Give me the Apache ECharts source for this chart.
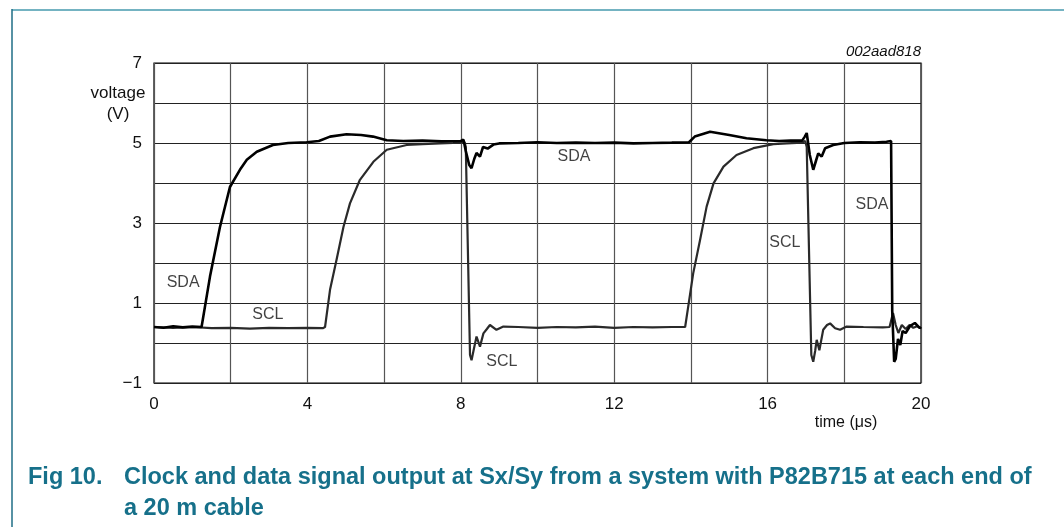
<!DOCTYPE html>
<html>
<head>
<meta charset="utf-8">
<script src="https://cdn.jsdelivr.net/npm/echarts@6/dist/echarts.min.js"></script>
<style>
html,body{margin:0;padding:0;background:#fff;}
#chart{width:1064px;height:527px;}
</style>
</head>
<body>
<div id="chart"></div>
<script>
// SDA trace (time in µs, voltage in V)
const sdaTime = [0,0.25,0.5,0.75,1.0,1.24,1.46,1.72,1.98,2.24,2.42,2.68,3.1,3.5,3.98,4.3,4.59,5.02,5.4,5.71,6.07,6.5,7.0,7.5,8.0,8.07,8.13,8.22,8.28,8.35,8.41,8.5,8.58,8.7,8.85,9.0,9.5,10,10.5,11,11.5,12,12.5,13,13.5,13.95,14.1,14.5,15.0,15.45,15.97,16.3,16.6,16.9,16.97,17.02,17.1,17.19,17.26,17.32,17.41,17.5,17.71,18.0,18.4,18.8,19.1,19.22,19.25,19.3,19.34,19.4,19.46,19.52,19.6,19.71,19.84,19.97,20];
const sdaVolt = [0.4,0.38,0.42,0.39,0.41,0.4,1.66,2.9,3.9,4.33,4.58,4.78,4.95,5.0,5.02,5.05,5.16,5.22,5.2,5.16,5.07,5.05,5.06,5.04,5.05,5.08,4.8,4.45,4.37,4.6,4.75,4.66,4.9,4.86,4.96,4.99,5.0,5.02,5.0,5.01,5.0,5.01,4.99,5.0,5.01,5.02,5.16,5.28,5.2,5.12,5.07,5.05,5.06,5.06,5.16,5.25,4.7,4.33,4.55,4.74,4.66,4.87,4.95,5.0,5.02,5.01,5.03,5.05,0.8,-0.47,-0.4,0.1,-0.05,0.3,0.25,0.42,0.5,0.37,0.4];
// SCL trace
const sclTime = [0,0.5,1.0,1.5,2.0,2.5,3.0,3.5,4.0,4.4,4.46,4.59,4.76,4.94,5.11,5.37,5.72,6.07,6.59,7.0,7.46,7.8,8.1,8.13,8.24,8.28,8.33,8.41,8.5,8.59,8.68,8.76,8.93,9.11,9.5,10,10.5,11,11.5,12,12.5,13,13.5,13.85,13.93,14.06,14.24,14.41,14.59,14.85,15.19,15.63,16.15,16.5,16.9,16.98,17.02,17.14,17.19,17.24,17.28,17.35,17.45,17.55,17.63,17.76,17.89,18.06,18.5,19.0,19.18,19.27,19.34,19.41,19.5,19.6,19.7,19.8,19.9,20];
const sclVolt = [0.4,0.38,0.4,0.37,0.38,0.36,0.38,0.37,0.38,0.37,0.4,1.33,2.08,2.9,3.49,4.08,4.53,4.83,4.95,4.97,4.99,5.0,5.02,4.9,-0.3,-0.43,-0.2,0.16,-0.09,0.24,0.35,0.45,0.33,0.41,0.4,0.38,0.4,0.39,0.41,0.38,0.4,0.39,0.4,0.4,0.91,1.74,2.58,3.41,3.99,4.41,4.7,4.87,4.97,4.99,5.01,5.05,4.9,-0.3,-0.47,-0.2,0.08,-0.18,0.33,0.45,0.49,0.37,0.33,0.41,0.4,0.39,0.4,0.75,0.45,0.25,0.45,0.35,0.45,0.38,0.42,0.37];
// In-plot annotations
const noteText = ['SDA','SCL','SDA','SCL','SCL','SDA'];
const noteTime = [0.76,2.97,10.95,9.07,16.45,18.72];
const noteVolt = [1.5,0.7,4.65,-0.47,2.5,3.45];
// Tick labels
const yTickLabels = {'-1':'\u22121','1':'1','3':'3','5':'5','7':'7'};
const xTickLabels = {'0':'0','4':'4','8':'8','12':'12','16':'16','20':'20'};

const zip = (a,b)=>a.map((t,i)=>[t,b[i]]);
const FONT = 'Liberation Sans, Arial, Helvetica, sans-serif';
const TEAL = '#16708a';

const chart = echarts.init(document.getElementById('chart'), null, {renderer:'canvas'});
chart.setOption({
  animation:false,
  backgroundColor:'#fff',
  textStyle:{fontFamily:FONT},
  grid:{left:154,right:143,top:63,bottom:144,show:true,borderColor:'#000',borderWidth:1.2,backgroundColor:'transparent'},
  xAxis:{
    type:'value',min:0,max:20,interval:2,
    axisLine:{show:false},axisTick:{show:false},
    splitLine:{show:true,lineStyle:{color:'#555',width:1.2}},
    axisLabel:{margin:13,fontSize:17,color:'#111',fontFamily:FONT,
      formatter:v=>xTickLabels[String(v)]||''}
  },
  yAxis:{
    type:'value',min:-1,max:7,interval:1,
    axisLine:{show:false},axisTick:{show:false},
    splitLine:{show:true,lineStyle:{color:'#222',width:1.2}},
    axisLabel:{margin:12,fontSize:17,color:'#111',fontFamily:FONT,
      formatter:v=>yTickLabels[String(v)]||''}
  },
  series:[
    {name:'SCL',type:'line',data:zip(sclTime,sclVolt),showSymbol:false,symbol:'none',
      lineStyle:{color:'#2a2a2a',width:2.2},z:3},
    {name:'SDA',type:'line',data:zip(sdaTime,sdaVolt),showSymbol:false,symbol:'none',
      lineStyle:{color:'#000',width:2.6},z:4},
    {name:'notes',type:'scatter',data:zip(noteTime,noteVolt).map((p,i)=>({value:p,name:noteText[i]})),
      symbolSize:0,z:6,
      label:{show:true,position:'inside',formatter:p=>p.name,fontSize:16,color:'#111',fontFamily:FONT}}
  ],
  graphic:[
    {type:'line',shape:{x1:12,y1:10,x2:1064,y2:10},style:{stroke:'#74b3c2',lineWidth:2}},
    {type:'line',shape:{x1:12,y1:9,x2:12,y2:527},style:{stroke:'#1f6e86',lineWidth:1.5}},
    {type:'text',x:921,y:52,style:{text:'002aad818',font:'italic 15px '+FONT,fill:'#111',textAlign:'right',textVerticalAlign:'middle'}},
    {type:'text',x:118,y:93,style:{text:'voltage',font:'17px '+FONT,fill:'#111',textAlign:'center',textVerticalAlign:'middle'}},
    {type:'text',x:118,y:114,style:{text:'(V)',font:'17px '+FONT,fill:'#111',textAlign:'center',textVerticalAlign:'middle'}},
    {type:'text',x:846,y:423,style:{text:'time (\u03bcs)',font:'16px '+FONT,fill:'#111',textAlign:'center',textVerticalAlign:'middle'}},
    {type:'text',x:28,y:478,style:{text:'Fig 10.',font:'bold 23.5px '+FONT,fill:TEAL,textVerticalAlign:'middle'}},
    {type:'text',x:124,y:478,style:{text:'Clock and data signal output at Sx/Sy from a system with P82B715 at each end of',font:'bold 23.5px '+FONT,fill:TEAL,textVerticalAlign:'middle'}},
    {type:'text',x:124,y:509,style:{text:'a 20 m cable',font:'bold 23.5px '+FONT,fill:TEAL,textVerticalAlign:'middle'}}
  ]
});
</script>
</body>
</html>
